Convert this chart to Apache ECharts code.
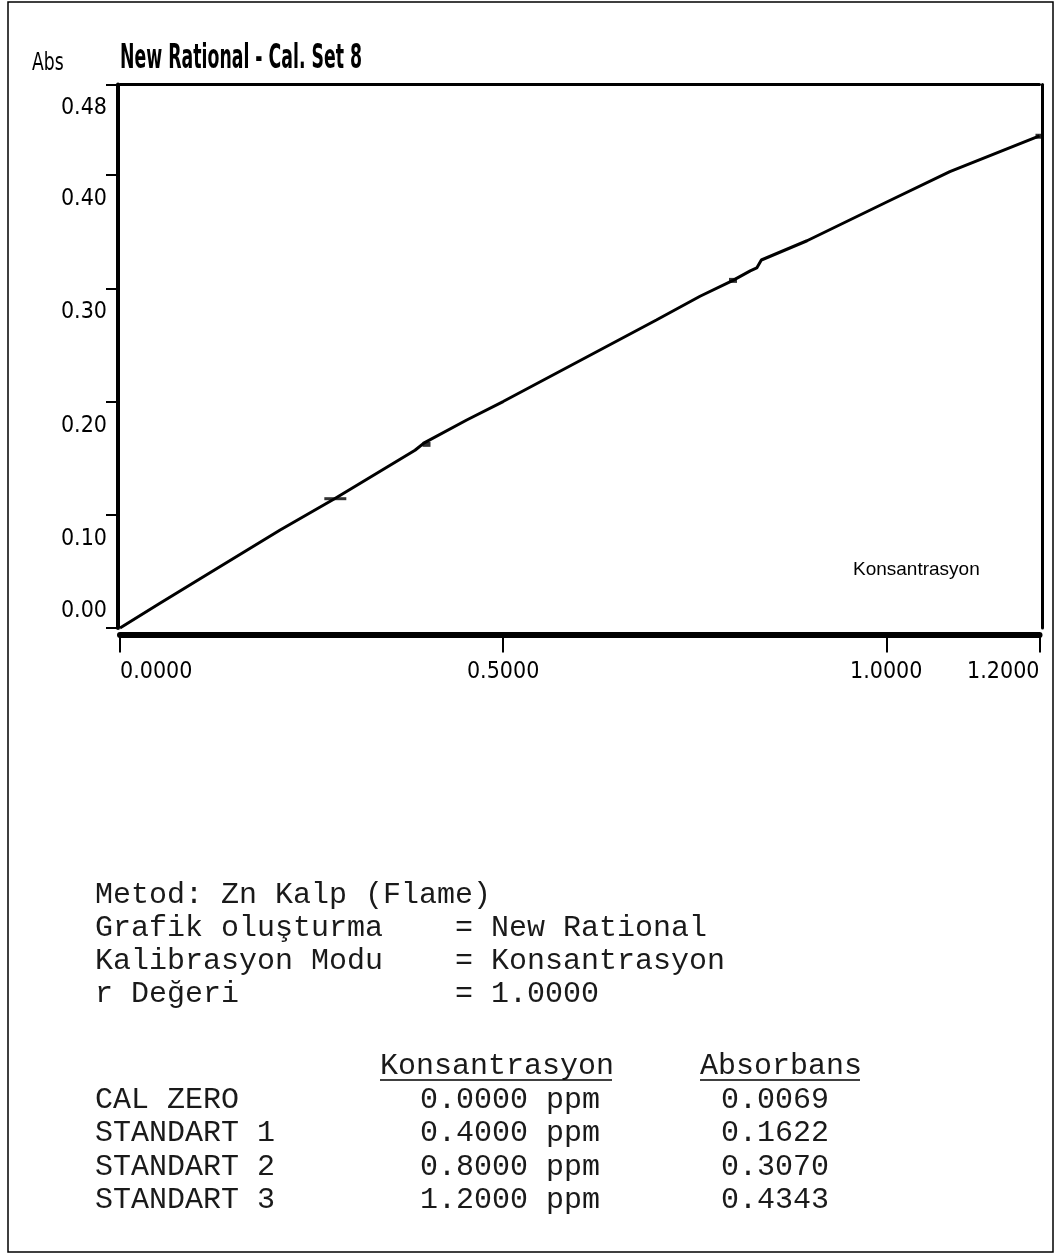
<!DOCTYPE html>
<html>
<head>
<meta charset="utf-8">
<script src="https://cdn.jsdelivr.net/npm/echarts@6/dist/echarts.min.js"></script>
<style>
html,body{margin:0;padding:0;background:#fff;}
#chart{width:1055px;height:1254px;}
</style>
</head>
<body>
<div id="chart"></div>
<script>
// ---- data ----
var xTicksInterval = 0.5;
var yTicksInterval = 0.1;
// calibration curve
var curveX = [0, 0.05, 0.104, 0.209, 0.28, 0.385, 0.397, 0.4525, 0.5, 0.6, 0.7, 0.757, 0.8, 0.8225, 0.831, 0.837, 0.8966, 1.0, 1.083, 1.2];
var curveY = [0, 0.021, 0.0433, 0.0866, 0.1142, 0.157, 0.1635, 0.1837, 0.200, 0.236, 0.272, 0.293, 0.307, 0.3154, 0.318, 0.325, 0.342, 0.376, 0.403, 0.4346];
// standards
var stdNames = ['CAL ZERO', 'STANDART 1', 'STANDART 2', 'STANDART 3'];
var stdConc = [0.0, 0.4, 0.8, 1.2];
var stdAbs = [0.0069, 0.1622, 0.3070, 0.4343];
// sample reading mark
var sampleX = [0.281];
var sampleY = [0.1142];
// texts
var chartTitle = 'New Rational - Cal. Set 8';
var yName = 'Abs';
var xName = 'Konsantrasyon';
var infoLines = [
  'Metod: Zn Kalp (Flame)',
  'Grafik oluşturma    = New Rational',
  'Kalibrasyon Modu    = Konsantrasyon',
  'r Değeri            = 1.0000'
];
var colHeaders = ['Konsantrasyon', 'Absorbans'];
var concUnit = 'ppm';

// ---- build ----
var NARROW = "'Liberation Sans Narrow','Arial Narrow','DejaVu Sans Condensed',sans-serif";
var MONO = "'Liberation Mono','Courier New',monospace";
var TXT = '#1a1a1a';
var chart = echarts.init(document.getElementById('chart'), null, {renderer:'canvas'});

var curveData = curveX.map(function(x,i){return [x, curveY[i]];});
var stdData = stdConc.slice(1).map(function(x,i){return [x, stdAbs[i+1]];});
var sampleData = sampleX.map(function(x,i){return [x, sampleY[i]];});

var graphics = [];
graphics.push({type:'rect', shape:{x:8,y:2,width:1045,height:1250}, style:{fill:'none', stroke:'#000', lineWidth:1.5}, silent:true});
graphics.push({type:'text', x:120, y:59.5, scaleX:0.77, scaleY:1.37, style:{text:chartTitle, x:0, y:0, verticalAlign:'middle', font:"bold 25px " + NARROW, fill:'#000'}});
graphics.push({type:'text', x:32, y:63.5, scaleX:0.87, scaleY:1.1, style:{text:yName, x:0, y:0, verticalAlign:'middle', font:"22px " + NARROW, fill:'#000'}});
graphics.push({type:'text', x:853, y:570, style:{text:xName, x:0, y:0, verticalAlign:'middle', font:"19px 'Liberation Sans',Arial,sans-serif", fill:'#000'}});

var infoY = [894.7, 928, 961, 994.3];
infoLines.forEach(function(t,i){
  graphics.push({type:'text', x:95, y:infoY[i], style:{text:t, x:0, y:0, verticalAlign:'middle', font:"30px " + MONO, fill:TXT}});
});
// table header
graphics.push({type:'text', x:380, y:1065.8, style:{text:colHeaders[0], x:0, y:0, verticalAlign:'middle', font:"30px " + MONO, fill:TXT}});
graphics.push({type:'text', x:700, y:1065.8, style:{text:colHeaders[1], x:0, y:0, verticalAlign:'middle', font:"30px " + MONO, fill:TXT}});
graphics.push({type:'line', shape:{x1:380,y1:1080,x2:612,y2:1080}, style:{stroke:'#000', lineWidth:1.5}});
graphics.push({type:'line', shape:{x1:700,y1:1080,x2:860,y2:1080}, style:{stroke:'#000', lineWidth:1.5}});
var rowY = [1100.5, 1133.5, 1167, 1200.5];
stdNames.forEach(function(n,i){
  graphics.push({type:'text', x:95, y:rowY[i], style:{text:n, x:0, y:0, verticalAlign:'middle', font:"30px " + MONO, fill:TXT}});
  graphics.push({type:'text', x:420, y:rowY[i], style:{text:stdConc[i].toFixed(4) + ' ' + concUnit, x:0, y:0, verticalAlign:'middle', font:"30px " + MONO, fill:TXT}});
  graphics.push({type:'text', x:721, y:rowY[i], style:{text:stdAbs[i].toFixed(4), x:0, y:0, verticalAlign:'middle', font:"30px " + MONO, fill:TXT}});
});

var option = {
  animation:false,
  backgroundColor:'#fff',
  grid:{left:120, top:84.5, width:919.5, height:543.5, containLabel:false},
  xAxis:[{
    type:'value', min:0, max:1.2, interval:xTicksInterval, position:'bottom', offset:6.5,
    axisLine:{show:true, onZero:false, lineStyle:{color:'#000', width:6}},
    axisTick:{show:true, length:18, lineStyle:{color:'#000', width:2}},
    axisLabel:{show:true, color:'#000', fontFamily:NARROW, fontSize:23, margin:26,
      alignMinLabel:'left', alignMaxLabel:'right',
      formatter:function(v){return v.toFixed(4);}},
    splitLine:{show:false}
  },{
    type:'value', min:0, max:1.2, position:'top',
    axisLine:{show:true, onZero:false, lineStyle:{color:'#000', width:3}},
    axisTick:{show:false}, axisLabel:{show:false}, splitLine:{show:false}
  }],
  yAxis:[{
    type:'value', min:0, max:0.48, interval:yTicksInterval, position:'left', offset:2,
    axisLine:{show:true, onZero:false, lineStyle:{color:'#000', width:4}},
    axisTick:{show:true, length:12, lineStyle:{color:'#000', width:2}},
    axisLabel:{show:true, color:'#000', fontFamily:NARROW, fontSize:23, margin:11,
      formatter:function(v){ return v === 0 ? '{z|' + v.toFixed(2) + '}' : '{b|' + v.toFixed(2) + '}'; },
      rich:{
        b:{fontFamily:NARROW, fontSize:23, color:'#000', padding:[48,0,0,0]},
        z:{fontFamily:NARROW, fontSize:23, color:'#000', padding:[0,0,34,0]}
      }},
    splitLine:{show:false}
  },{
    type:'value', min:0, max:0.48, position:'right', offset:3,
    axisLine:{show:true, onZero:false, lineStyle:{color:'#000', width:3}},
    axisTick:{show:false}, axisLabel:{show:false}, splitLine:{show:false}
  }],
  series:[{
    name:'Calibration', type:'line', data:curveData, showSymbol:false, symbol:'none',
    lineStyle:{color:'#000', width:3}, z:3, clip:false
  },{
    name:'Standards', type:'scatter', data:stdData, symbol:'rect', symbolSize:[8,5],
    itemStyle:{color:'#000'}, z:4
  },{
    name:'Sample', type:'scatter', data:sampleData, symbol:'rect', symbolSize:[22,3],
    itemStyle:{color:'#000'}, z:4
  }],
  graphic:graphics
};
chart.setOption(option);
</script>
</body>
</html>
